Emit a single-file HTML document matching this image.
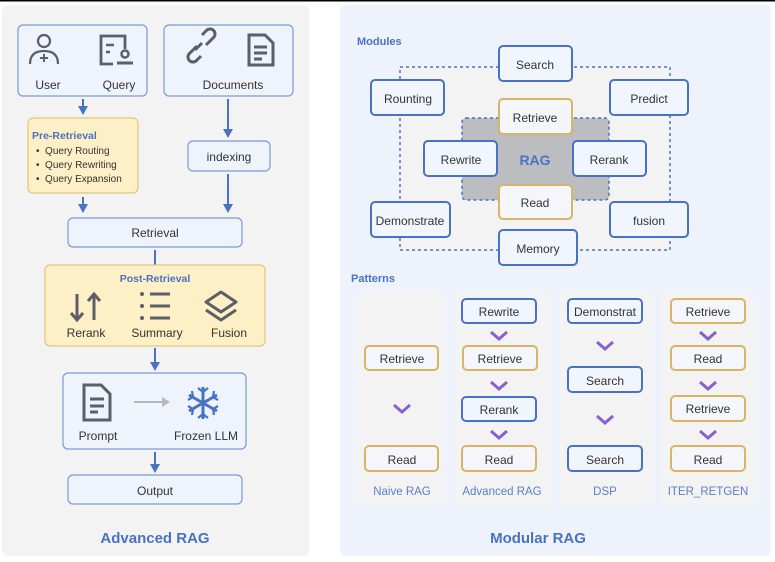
<!DOCTYPE html>
<html><head><meta charset="utf-8"><style>
html,body{margin:0;padding:0;background:#fff;}
svg{display:block;font-family:"Liberation Sans","DejaVu Sans",sans-serif;}
.t{font-size:12px;fill:#333;text-anchor:middle;}
.b{fill:#eef3fc;stroke:#7b9ad6;stroke-width:1.2;}
.m{fill:#f1f5fd;stroke:#4a72c4;stroke-width:2;}
.g{fill:#f5f6fb;stroke:#d8b564;stroke-width:2;}
.ar{stroke:#4a72c4;stroke-width:2;fill:none;}
.ah{fill:#4a72c4;}
.ch{stroke:#8a5fd0;stroke-width:3;fill:none;}
.ic{stroke:#5c5f66;stroke-width:3;fill:none;}
.lb{font-size:11.5px;fill:#5a7fc8;text-anchor:middle;}
</style></head><body>
<svg width="775" height="562" viewBox="0 0 775 562" xmlns="http://www.w3.org/2000/svg">
<rect x="0" y="0" width="775" height="1.5" fill="#000"/>
<rect x="2" y="5" width="307" height="551" rx="6" fill="#f3f3f3"/>
<rect x="340" y="5" width="431" height="551" rx="6" fill="#eef2fb"/>

<!-- left -->
<rect class="b" x="18" y="25" width="129" height="71" rx="5"/>
<rect class="b" x="164" y="25" width="129" height="71" rx="5"/>
<circle cx="44" cy="41" r="6" fill="none" stroke="#5c5f66" stroke-width="2.2"/>
<path d="M30,64 Q30,51 44,51 Q58,51 58,64" fill="none" stroke="#5c5f66" stroke-width="2.2"/>
<path d="M40,58 h8 M44,54 v8" fill="none" stroke="#5c5f66" stroke-width="2"/>
<path d="M125,49 V36 h-24 v28 h12" fill="none" stroke="#5c5f66" stroke-width="2.8"/>
<path d="M106,45 h8 M106,52 h4" fill="none" stroke="#5c5f66" stroke-width="2.5"/>
<circle cx="125" cy="54" r="3.5" fill="none" stroke="#5c5f66" stroke-width="2.5"/><path d="M117,63 h16" stroke="#5c5f66" stroke-width="3"/>
<path d="M197,46 l-8,8 a5,5 0 0 0 7,7 l5,-5 M206,45 l8,-8 a5,5 0 0 0 -7,-7 l-5,5 M195,50 l7,-7" class="ic" stroke-width="3"/>
<path d="M249,35 h16 l8,8 v22 h-24 Z" class="ic" stroke-width="3"/>
<path d="M254,47 h13 M254,53 h13 M254,59 h8" class="ic" stroke-width="2.5"/>
<text class="t" x="48" y="89">User</text><text class="t" x="119" y="89">Query</text>
<text class="t" x="233" y="89">Documents</text>

<line class="ar" x1="83" y1="99" x2="83" y2="108"/><polygon class="ah" points="78,106 88,106 83,115"/>
<rect x="28" y="118" width="110" height="75" rx="5" fill="#fdefc6" stroke="#e0c77c" stroke-width="1.2"/>
<text x="32" y="139" font-size="10.5" font-weight="bold" fill="#4a72c4">Pre-Retrieval</text>
<g font-size="10" fill="#333"><text x="36" y="154">•&#160;&#160;Query Routing</text><text x="36" y="168">•&#160;&#160;Query Rewriting</text><text x="36" y="182">•&#160;&#160;Query Expansion</text></g>
<line class="ar" x1="228" y1="99" x2="228" y2="131"/><polygon class="ah" points="223,129 233,129 228,138"/>
<rect class="b" x="188" y="141" width="82" height="30" rx="5"/>
<text class="t" x="229" y="161">indexing</text>
<line class="ar" x1="228" y1="174" x2="228" y2="206"/><polygon class="ah" points="223,204 233,204 228,213"/>
<line class="ar" x1="83" y1="197" x2="83" y2="206"/><polygon class="ah" points="78,204 88,204 83,213"/>
<rect class="b" x="68" y="218" width="174" height="29" rx="5"/>
<text class="t" x="155" y="237">Retrieval</text>
<line class="ar" x1="155" y1="250" x2="155" y2="265"/>
<rect x="45" y="265" width="220" height="81" rx="5" fill="#fdefc6" stroke="#e0c77c" stroke-width="1.2"/>
<text x="155" y="282" font-size="10.5" font-weight="bold" fill="#4a72c4" text-anchor="middle">Post-Retrieval</text>
<path d="M77,294 v26 M71,313 l6,7 l6,-7 M94,320 v-26 M88,301 l6,-7 l6,7" class="ic" stroke-width="2.8"/>
<circle cx="142" cy="294" r="2" fill="#5c5f66"/><circle cx="142" cy="306" r="2" fill="#5c5f66"/><circle cx="142" cy="318" r="2" fill="#5c5f66"/>
<path d="M150,294 h20 M150,306 h20 M150,318 h20" class="ic" stroke-width="2.8"/>
<path d="M206,302 l15,-10 l15,10 l-15,10 Z M206,310 l15,10 l15,-10" class="ic" stroke-width="2.8" stroke-linejoin="round"/>
<text class="t" x="86" y="337">Rerank</text><text class="t" x="157" y="337">Summary</text><text class="t" x="229" y="337">Fusion</text>
<line class="ar" x1="155" y1="348" x2="155" y2="364"/><polygon class="ah" points="150,362 160,362 155,371"/>
<rect class="b" x="63" y="373" width="183" height="76" rx="5"/>
<path d="M84,385 h17 l9,9 v26 h-26 Z" class="ic" stroke-width="3"/>
<path d="M90,399 h14 M90,406 h14 M90,412 h8" class="ic" stroke-width="2.5"/>
<line x1="134" y1="402" x2="164" y2="402" stroke="#b8b8b8" stroke-width="2"/><path d="M162,397 l8,5 l-8,5 Z" fill="#b8b8b8"/>
<g stroke="#4a72c4" stroke-width="3" fill="none"><path d="M203,387 v32 M189,395 l28,16 M189,411 l28,-16"/>
<path d="M198,388 l5,4 l5,-4 M198,418 l5,-4 l5,4 M188,400 l5,-3 l-1,-6 M218,406 l-5,3 l1,6 M188,406 l5,3 l-1,6 M218,400 l-5,-3 l1,-6" stroke-width="2.2"/></g>
<text class="t" x="98" y="440">Prompt</text><text class="t" x="206" y="440">Frozen LLM</text>
<line class="ar" x1="155" y1="452" x2="155" y2="466"/><polygon class="ah" points="150,464 160,464 155,473"/>
<rect class="b" x="68" y="475" width="174" height="29" rx="5"/>
<text class="t" x="155" y="495">Output</text>
<text x="155" y="543" font-size="15" font-weight="bold" fill="#4a72c4" text-anchor="middle">Advanced RAG</text>

<!-- right modules -->
<text x="357" y="45" font-size="11" font-weight="bold" fill="#4a72c4">Modules</text>
<rect x="400" y="67" width="270" height="183" fill="#f3f3f3" stroke="#4a72c4" stroke-width="1.5" stroke-dasharray="3,3"/>
<rect x="462" y="118" width="147" height="82" rx="4" fill="#bcbdc1" stroke="#4a72c4" stroke-width="1.5" stroke-dasharray="3,3"/>
<text x="535" y="165" font-size="14" font-weight="bold" fill="#4a72c4" text-anchor="middle">RAG</text>
<rect class="m" x="499" y="46" width="73" height="35" rx="4"/><text class="t" x="535" y="69">Search</text>
<rect class="m" x="371" y="80" width="73" height="35" rx="4"/><text class="t" x="408" y="103">Rounting</text>
<rect class="m" x="610" y="80" width="78" height="35" rx="4"/><text class="t" x="649" y="103">Predict</text>
<rect class="g" x="499" y="99" width="73" height="35" rx="4"/><text class="t" x="535" y="122">Retrieve</text>
<rect class="m" x="424" y="141" width="73" height="35" rx="4"/><text class="t" x="461" y="164">Rewrite</text>
<rect class="m" x="573" y="141" width="73" height="35" rx="4"/><text class="t" x="609" y="164">Rerank</text>
<rect class="g" x="499" y="185" width="73" height="34" rx="4"/><text class="t" x="535" y="207">Read</text>
<rect class="m" x="371" y="202" width="79" height="35" rx="4"/><text class="t" x="410" y="225">Demonstrate</text>
<rect class="m" x="610" y="202" width="78" height="35" rx="4"/><text class="t" x="649" y="225">fusion</text>
<rect class="m" x="499" y="230" width="78" height="35" rx="4"/><text class="t" x="538" y="253">Memory</text>

<text x="351" y="282" font-size="11" font-weight="bold" fill="#4a72c4">Patterns</text>
<g fill="#f3f3f3"><rect x="357" y="293" width="87" height="212" rx="4"/><rect x="455" y="293" width="95" height="212" rx="4"/><rect x="560" y="293" width="92" height="212" rx="4"/><rect x="662" y="293" width="93" height="212" rx="4"/></g>
<g font-size="12">
<rect class="g" x="365" y="346" width="73" height="24" rx="4"/><text class="t" x="402" y="363">Retrieve</text>
<rect class="g" x="365" y="446" width="73" height="25" rx="4"/><text class="t" x="402" y="464">Read</text>
<rect class="m" x="462" y="299" width="74" height="24" rx="4"/><text class="t" x="499" y="316">Rewrite</text>
<rect class="g" x="463" y="346" width="74" height="24" rx="4"/><text class="t" x="500" y="363">Retrieve</text>
<rect class="m" x="462" y="397" width="74" height="24" rx="4"/><text class="t" x="499" y="414">Rerank</text>
<rect class="g" x="462" y="446" width="74" height="25" rx="4"/><text class="t" x="499" y="464">Read</text>
<rect class="m" x="568" y="299" width="74" height="24" rx="4"/><text class="t" x="605" y="316">Demonstrat</text>
<rect class="m" x="568" y="367" width="74" height="25" rx="4"/><text class="t" x="605" y="385">Search</text>
<rect class="m" x="568" y="446" width="74" height="25" rx="4"/><text class="t" x="605" y="464">Search</text>
<rect class="g" x="671" y="299" width="74" height="24" rx="4"/><text class="t" x="708" y="316">Retrieve</text>
<rect class="g" x="671" y="346" width="74" height="24" rx="4"/><text class="t" x="708" y="363">Read</text>
<rect class="g" x="671" y="396" width="74" height="25" rx="4"/><text class="t" x="708" y="413">Retrieve</text>
<rect class="g" x="671" y="446" width="74" height="25" rx="4"/><text class="t" x="708" y="464">Read</text>
</g>
<g class="ch">
<path d="M394,405 l8,7 l8,-7"/>
<path d="M491,332 l8,7 l8,-7"/><path d="M491,382 l8,7 l8,-7"/><path d="M491,431 l8,7 l8,-7"/>
<path d="M597,342 l8,7 l8,-7"/><path d="M597,416 l8,7 l8,-7"/>
<path d="M700,332 l8,7 l8,-7"/><path d="M700,382 l8,7 l8,-7"/><path d="M700,431 l8,7 l8,-7"/>
</g>
<text class="lb" x="402" y="495">Naive RAG</text><text class="lb" x="502" y="495">Advanced RAG</text>
<text class="lb" x="605" y="495">DSP</text><text class="lb" x="708" y="495">ITER_RETGEN</text>
<text x="538" y="543" font-size="15" font-weight="bold" fill="#4a72c4" text-anchor="middle">Modular RAG</text>
</svg>
</body></html>
